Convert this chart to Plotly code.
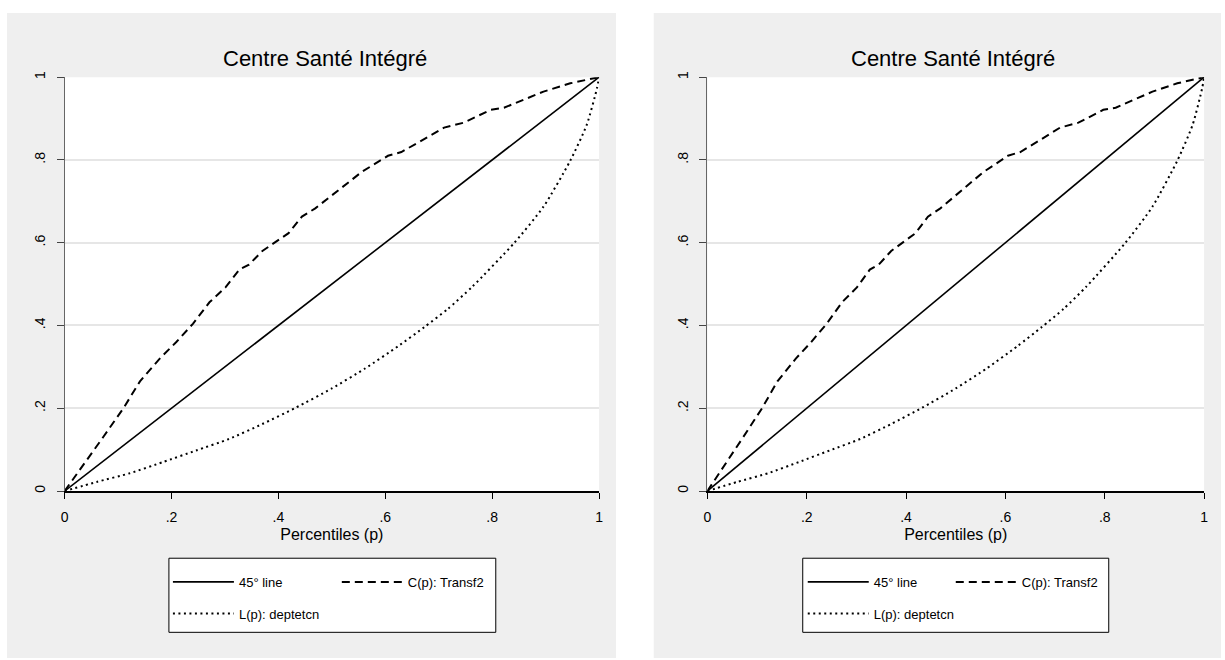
import plotly.graph_objects as go

# ---- data (both panels show the same curves) ----
P_45 = [0, 1]
LINE_45 = [0, 1]

P_CONC = [0, .035, .072, .11, .141, .178, .209, .24, .271, .301, .327, .345, .37,
          .419, .444, .469, .5, .537, .556, .605, .63, .667, .71, .747, .797, .822,
          .872, .896, .946, 1]
C_TRANSF2 = [0, .062, .13, .2, .265, .32, .36, .404, .456, .492, .535, .547, .58,
             .623, .663, .683, .714, .75, .771, .81, .819, .846, .878, .89, .921, .926,
             .953, .965, .985, 1]

P_LOR = [0, .06, .122, .184, .246, .308, .37, .432, .5, .562, .624, .673, .717,
         .763, .841, .896, .946, .977, .996, 1]
L_DEPTETCN = [0, .022, .043, .07, .098, .126, .162, .201, .248, .296, .350, .396,
              .440, .494, .599, .687, .798, .885, .973, 1]

TICK_VALS = [0, .2, .4, .6, .8, 1]
TICK_TEXT = ["0", ".2", ".4", ".6", ".8", "1"]

TITLE = "Centre Santé Intégré"
X_TITLE = "Percentiles (p)"
NAMES = ["45° line", "C(p): Transf2", "L(p): deptetcn"]

W, H = 1225, 660
FONT = "Liberation Sans Narrow, Arial Narrow, Liberation Sans, Arial, sans-serif"
BG = "#EFEFEF"


def px_x(v):
    return v / W


def px_y(v):
    return 1 - v / H


fig = go.Figure()

# panel geometry in pixels
panels = [
    dict(xa="x", ya="y", plot=(61, 599), box=(166, 495), col1=172, col2=342,
         title_x=323, bg=(3, 616), legends=("legend", "legend2", "legend3")),
    dict(xa="x2", ya="y2", plot=(708, 1208), box=(804, 1112), col1=811, col2=960,
         title_x=955, bg=(654, 1225), legends=("legend4", "legend5", "legend6")),
]

styles = [
    dict(color="black", width=1.6),
    dict(color="black", width=2, dash="8px,5px"),
    dict(color="black", width=2, dash="2px,3.5px"),
]
series = [(P_45, LINE_45), (P_CONC, C_TRANSF2), (P_LOR, L_DEPTETCN)]

shapes = []
annotations = []
legend_layout = {}
row_y = [583, 583, 615]

for pn in panels:
    col_x = [pn["col1"], pn["col2"], pn["col1"]]
    for i, (xs, ys) in enumerate(series):
        fig.add_trace(go.Scatter(
            x=xs, y=ys, mode="lines", name=NAMES[i],
            line=dict(shape="spline" if i == 2 else "linear", smoothing=0.6, **styles[i]),
            xaxis=pn["xa"], yaxis=pn["ya"], legend=pn["legends"][i],
            hoverinfo="skip",
        ))
        legend_layout[pn["legends"][i]] = dict(
            x=px_x(col_x[i] - 7), y=px_y(row_y[i]), xanchor="left", yanchor="middle",
            bgcolor="rgba(0,0,0,0)", borderwidth=0, itemwidth=61,
            font=dict(family=FONT, size=13, color="black"),
        )

    # grey panel, white plot area, legend frame
    shapes.append(dict(type="rect", xref="paper", yref="paper", layer="below",
                       x0=px_x(pn["bg"][0]), x1=px_x(pn["bg"][1]), y0=0, y1=px_y(7),
                       fillcolor=BG, line=dict(width=0)))
    shapes.append(dict(type="rect", xref=pn["xa"] + " domain", yref=pn["ya"] + " domain",
                       layer="below", x0=0, x1=1, y0=0, y1=1,
                       fillcolor="white", line=dict(width=0)))
    shapes.append(dict(type="rect", xref="paper", yref="paper", layer="below",
                       x0=px_x(pn["box"][0]), x1=px_x(pn["box"][1]),
                       y0=px_y(634), y1=px_y(559),
                       fillcolor="white", line=dict(color="black", width=1)))

    annotations.append(dict(text=TITLE, xref="paper", yref="paper",
                            x=px_x(pn["title_x"]), y=px_y(53),
                            xanchor="center", yanchor="middle", showarrow=False,
                            font=dict(family=FONT, size=22, color="black")))

axis_common = dict(range=[0, 1], tickvals=TICK_VALS, ticktext=TICK_TEXT,
                   ticks="outside", zeroline=False, fixedrange=True,
                   tickfont=dict(family=FONT, size=14, color="black"))

layout_axes = {}
for n, pn in enumerate(panels):
    suffix = "" if n == 0 else "2"
    layout_axes["xaxis" + suffix] = dict(
        axis_common, domain=[px_x(pn["plot"][0]), px_x(pn["plot"][1])],
        anchor="y" + suffix, showgrid=False, showline=True,
        linecolor="black", linewidth=1.5, ticklen=6, tickcolor="black",
        ticklabelstandoff=6,
        title=dict(text=X_TITLE, standoff=5,
                   font=dict(family=FONT, size=16, color="black")),
    )
    layout_axes["yaxis" + suffix] = dict(
        axis_common, domain=[px_y(491), px_y(72)], anchor="x" + suffix,
        showgrid=True, gridcolor="#E6E6E6", gridwidth=1.5,
        showline=True, linecolor="#666666", linewidth=1,
        ticklen=7, tickcolor="#444444", tickangle=-90, ticklabelstandoff=6,
    )

fig.update_layout(
    width=W, height=H,
    margin=dict(l=0, r=0, t=0, b=0),
    paper_bgcolor="white", plot_bgcolor="white",
    font=dict(family=FONT, color="black"),
    showlegend=True,
    shapes=shapes,
    annotations=annotations,
    **legend_layout,
    **layout_axes,
)

fig.write_html("out.html", config={"displayModeBar": False},
               post_script="document.body.style.margin='0';")
